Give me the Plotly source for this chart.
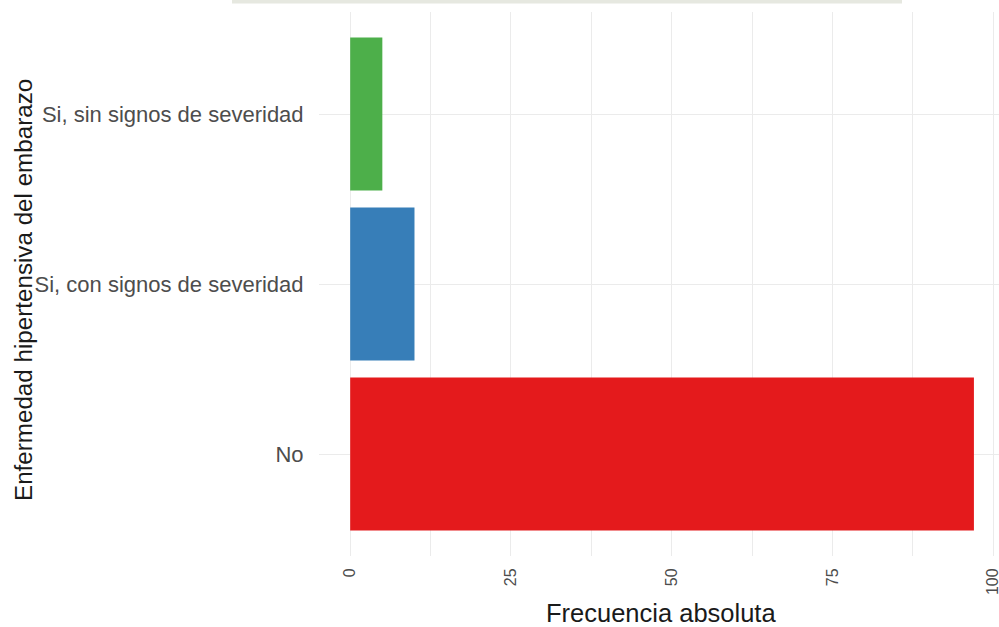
import plotly.graph_objects as go

categories = ["No", "Si, con signos de severidad", "Si, sin signos de severidad"]
values = [97, 10, 5]
colors = ["#E41A1C", "#377EB8", "#4DAF4A"]
x_ticks = [0, 25, 50, 75, 100]

fig = go.Figure(go.Bar(
    x=values, y=categories, orientation="h",
    marker=dict(color=colors, line=dict(width=0)),
    width=0.9,
))

font_family = "Liberation Sans, Arial, sans-serif"
L, R, T, B = 319, 0, 12, 71
W, H = 999, 627
pw, ph = W - L - R, H - T - B

def px_x(p):
    return (p - L) / pw

def px_y(p):
    return (H - B - p) / ph

fig.update_layout(
    width=W, height=H,
    margin=dict(l=L, r=R, t=T, b=B),
    plot_bgcolor="white", paper_bgcolor="white",
    showlegend=False,
    font=dict(family=font_family),
    xaxis=dict(
        range=[-4.85, 100.9],
        tickvals=x_ticks,
        ticktext=[str(v) for v in x_ticks],
        tickangle=-90,
        tickfont=dict(size=16, color="#4d4d4d"),
        ticklabeloverflow="allow",
        showgrid=True, gridcolor="#ebebeb", gridwidth=1.2,
        minor=dict(showgrid=True, dtick=12.5, tick0=0, gridcolor="#ebebeb", gridwidth=0.8),
        zeroline=False, showline=False,
        ticks="outside", ticklen=5, tickcolor="rgba(0,0,0,0)",
        automargin=False,
    ),
    yaxis=dict(
        type="category",
        categoryorder="array", categoryarray=categories,
        range=[-0.6, 2.6],
        tickfont=dict(size=22, color="#4d4d4d"),
        showgrid=True, gridcolor="#ebebeb", gridwidth=1.2,
        zeroline=False, showline=False,
        ticks="outside", ticklen=10, tickcolor="rgba(0,0,0,0)",
        automargin=False,
    ),
    annotations=[
        dict(text="Frecuencia absoluta", xref="paper", yref="paper",
             x=px_x(661), y=px_y(613), xanchor="center", yanchor="middle",
             showarrow=False, font=dict(size=25.5, color="#1a1a1a")),
        dict(text="Enfermedad hipertensiva del embarazo", xref="paper", yref="paper",
             x=px_x(23), y=px_y(290), xanchor="center", yanchor="middle", textangle=-90,
             showarrow=False, font=dict(size=24.2, color="#1a1a1a")),
    ],
    shapes=[
        dict(type="rect", xref="paper", yref="paper", layer="above",
             x0=px_x(232), x1=px_x(902), y0=px_y(3.5), y1=px_y(0),
             fillcolor="#e6e8e0", line=dict(width=0)),
    ],
)

fig.write_html(
    "out.html",
    config={"displayModeBar": False},
    post_script="document.body.style.margin='0';document.body.style.overflow='hidden';",
)
